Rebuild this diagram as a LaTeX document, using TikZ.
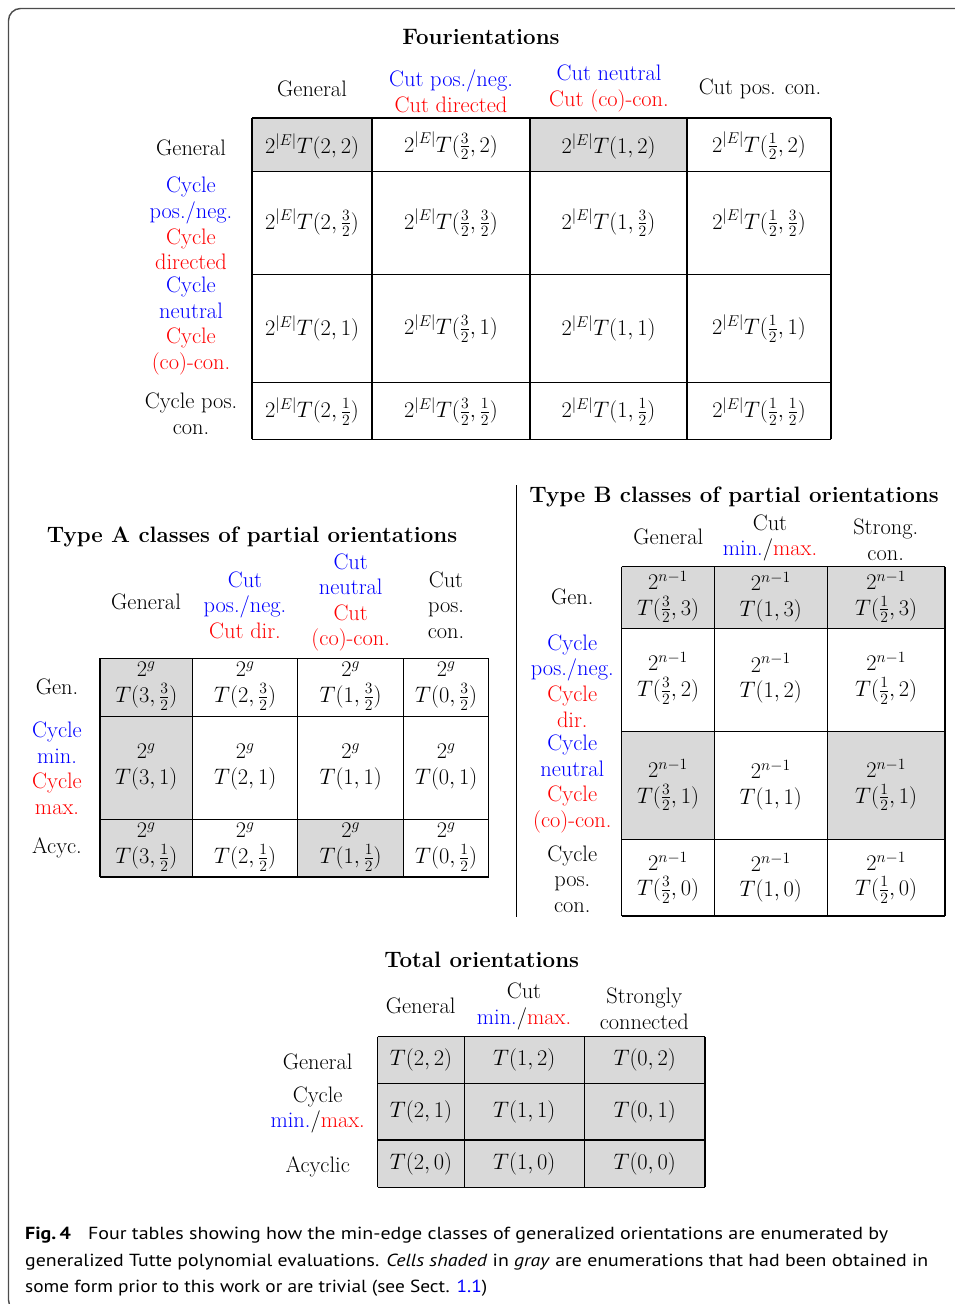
\RequirePackage{fix-cm}
\documentclass[tikz,border=0pt]{standalone}
\usepackage{fontspec}
\usepackage{graphicx}
\newfontfamily\capfont{PT Sans}
\definecolor{cellgray}{gray}{0.85}
\definecolor{framecol}{gray}{0.3}
\newcommand{\bl}[1]{\textcolor{blue}{#1}}
\newcommand{\rd}[1]{\textcolor{red}{#1}}
\tikzset{
  lbl/.style={font=\fontsize{22.4}{25.6}\selectfont, inner sep=0pt, align=center},
  ttl/.style={font=\fontsize{22.3}{25.6}\selectfont\bfseries, inner sep=0pt, align=center},
  gridline/.style={line width=1.2pt, black},
  shadecell/.style={fill=cellgray},
  capline/.style={font=\capfont\fontsize{17.5}{26}\selectfont, inner sep=0pt, anchor=base west},
}
\begin{document}
\begin{tikzpicture}[x=1pt,y=-1pt]
\useasboundingbox (0,0) rectangle (955,1304);
% frame
\draw[framecol, line width=1.4pt, rounded corners=12pt] (965,8.5) -- (8.5,8.5) -- (8.5,1312) -- (965,1312);

% ================= Fourientations =================
\node[ttl] (ftitle) at (481,37) {Fourientations};
\node[lbl] (fh1) at (312,89) {General};
\node[lbl] (fh2) at (451,91.5) {\bl{Cut pos./neg.}\\\rd{Cut directed}};
\node[lbl] (fh3) at (609,88.5) {\bl{Cut neutral}\\\rd{Cut (co)-con.}};
\node[lbl] (fh4) at (760,89) {Cut pos. con.};
\node[lbl] (fr1) at (191,148) {General};
\node[lbl] (fr2) at (191,223.5) {\bl{Cycle}\\\bl{pos./neg.}\\\rd{Cycle}\\\rd{directed}};
\node[lbl] (fr3) at (191,326) {\bl{Cycle}\\\bl{neutral}\\\rd{Cycle}\\\rd{(co)-con.}};
\node[lbl] (fr4) at (191,414) {Cycle pos.\\con.};
\fill[shadecell] (252,118) rectangle (372,171.6);
\fill[shadecell] (530,118) rectangle (687,171.6);
\foreach \xx in {252,372,530,687,831} \draw[gridline] (\xx,118) -- (\xx,439.3);
\foreach \yy in {118,171.6,274.6,382.3,439.3} \draw[gridline] (252,\yy) -- (831,\yy);
\foreach \c/\xc/\xv in {1/312/2, 2/451/\frac32, 3/608.5/1, 4/759/\frac12} {
  \foreach \r/\yc/\yv in {1/146/2, 2/223/\frac32, 3/328.5/1, 4/411.5/\frac12} {
    \node[lbl] (f\r\c) at (\xc,\yc) {$2^{|E|}T(\xv,\yv)$};
  }
}

% ================= Type A =================
\node[ttl] (atitle) at (252,536.5) {Type A classes of partial orientations};
\node[lbl] (ah1) at (146,602) {General};
\node[lbl] (ah2) at (245,605) {\bl{Cut}\\\bl{pos./neg.}\\\rd{Cut dir.}};
\node[lbl] (ah3) at (350.7,602.5) {\bl{Cut}\\\bl{neutral}\\\rd{Cut}\\\rd{(co)-con.}};
\node[lbl] (ah4) at (446,605) {Cut\\pos.\\con.};
\node[lbl] (ar1) at (57,687) {Gen.};
\node[lbl] (ar2) at (57,768.4) {\bl{Cycle}\\\bl{min.}\\\rd{Cycle}\\\rd{max.}};
\node[lbl] (ar3) at (57,848) {Acyc.};
\fill[shadecell] (100,658.3) rectangle (192.7,877);
\fill[shadecell] (297.7,819.3) rectangle (403.7,877);
\foreach \xx in {100,192.7,297.7,403.7,488.7} \draw[gridline] (\xx,658.3) -- (\xx,877);
\foreach \yy in {658.3,716.7,819.3,877} \draw[gridline] (100,\yy) -- (488.7,\yy);
\foreach \c/\xc/\xv in {1/146.3/3, 2/245.2/2, 3/350.7/1, 4/446.2/0} {
  \foreach \r/\yc/\yv in {1/686/\frac32, 2/767/1, 3/847/\frac12} {
    \node[lbl] (a\r\c) at (\xc,\yc) {$2^g$\\$T(\xv,\yv)$};
  }
}

% separator
\coordinate (septop) at (516.5,485);
\coordinate (sepbot) at (516.5,916.5);
\draw[gridline] (septop) -- (sepbot);

% ================= Type B =================
\node[ttl] (btitle) at (734,496.7) {Type B classes of partial orientations};
\node[lbl] (bh1) at (668.3,536.7) {General};
\node[lbl] (bh2) at (770,538) {Cut\\\bl{min.}/\rd{max.}};
\node[lbl] (bh3) at (885.7,539.7) {Strong.\\con.};
\node[lbl] (br1) at (572.3,596.7) {Gen.};
\node[lbl] (br2) at (572.3,681) {\bl{Cycle}\\\bl{pos./neg.}\\\rd{Cycle}\\\rd{dir.}};
\node[lbl] (br3) at (572.3,784) {\bl{Cycle}\\\bl{neutral}\\\rd{Cycle}\\\rd{(co)-con.}};
\node[lbl] (br4) at (572.3,879) {Cycle\\pos.\\con.};
\fill[shadecell] (621.7,566.7) rectangle (945,628.3);
\fill[shadecell] (621.7,731.7) rectangle (714.3,839.3);
\fill[shadecell] (827.3,731.7) rectangle (945,839.3);
\foreach \xx in {621.7,714.3,827.3,945} \draw[gridline] (\xx,566.7) -- (\xx,916);
\foreach \yy in {566.7,628.3,731.7,839.3,916} \draw[gridline] (621.7,\yy) -- (945,\yy);
\foreach \c/\xc/\xv in {1/668/\frac32, 2/770.8/1, 3/886.2/\frac12} {
  \foreach \r/\yc/\yv in {1/597/3, 2/678.5/2, 3/785/1, 4/877.7/0} {
    \node[lbl] (b\r\c) at (\xc,\yc) {$2^{n-1}$\\$T(\xv,\yv)$};
  }
}

% ================= Total =================
\node[ttl] (ttitle) at (481.7,960) {Total orientations};
\node[lbl] (th1) at (420.7,1006) {General};
\node[lbl] (th2) at (524,1006.7) {Cut\\\bl{min.}/\rd{max.}};
\node[lbl] (th3) at (644.3,1009) {Strongly\\connected};
\node[lbl] (tr1) at (317.7,1061.7) {General};
\node[lbl] (tr2) at (317.7,1110) {Cycle\\\bl{min.}/\rd{max.}};
\node[lbl] (tr3) at (317.7,1166.7) {Acyclic};
\fill[shadecell] (377.7,1036.7) rectangle (705,1187.3);
\foreach \xx in {377.7,464.3,584.3,705} \draw[gridline] (\xx,1036.7) -- (\xx,1187.3);
\foreach \yy in {1036.7,1083.3,1140,1187.3} \draw[gridline] (377.7,\yy) -- (705,\yy);
\foreach \c/\xc/\xv in {1/421/2, 2/524.3/1, 3/644.7/0} {
  \foreach \r/\yc/\yv in {1/1060/2, 2/1111.7/1, 3/1163.7/0} {
    \node[lbl] (t\r\c) at (\xc,\yc) {$T(\xv,\yv)$};
  }
}

% ================= Caption =================
\node[capline] (cap1) at (25,1239) {\resizebox{863pt}{\height}{\textbf{Fig.\,4}\hspace{0.85em}Four tables showing how the min-edge classes of generalized orientations are enumerated by}};
\node[capline] (cap2) at (25,1266) {\resizebox{903pt}{\height}{generalized Tutte polynomial evaluations. \textit{Cells shaded} in \textit{gray} are enumerations that had been obtained in}};
\node[capline] (cap3) at (25,1292) {\resizebox{462pt}{\height}{some form prior to this work or are trivial (see Sect. \textcolor{blue}{1.1})}};
\end{tikzpicture}
\end{document}
